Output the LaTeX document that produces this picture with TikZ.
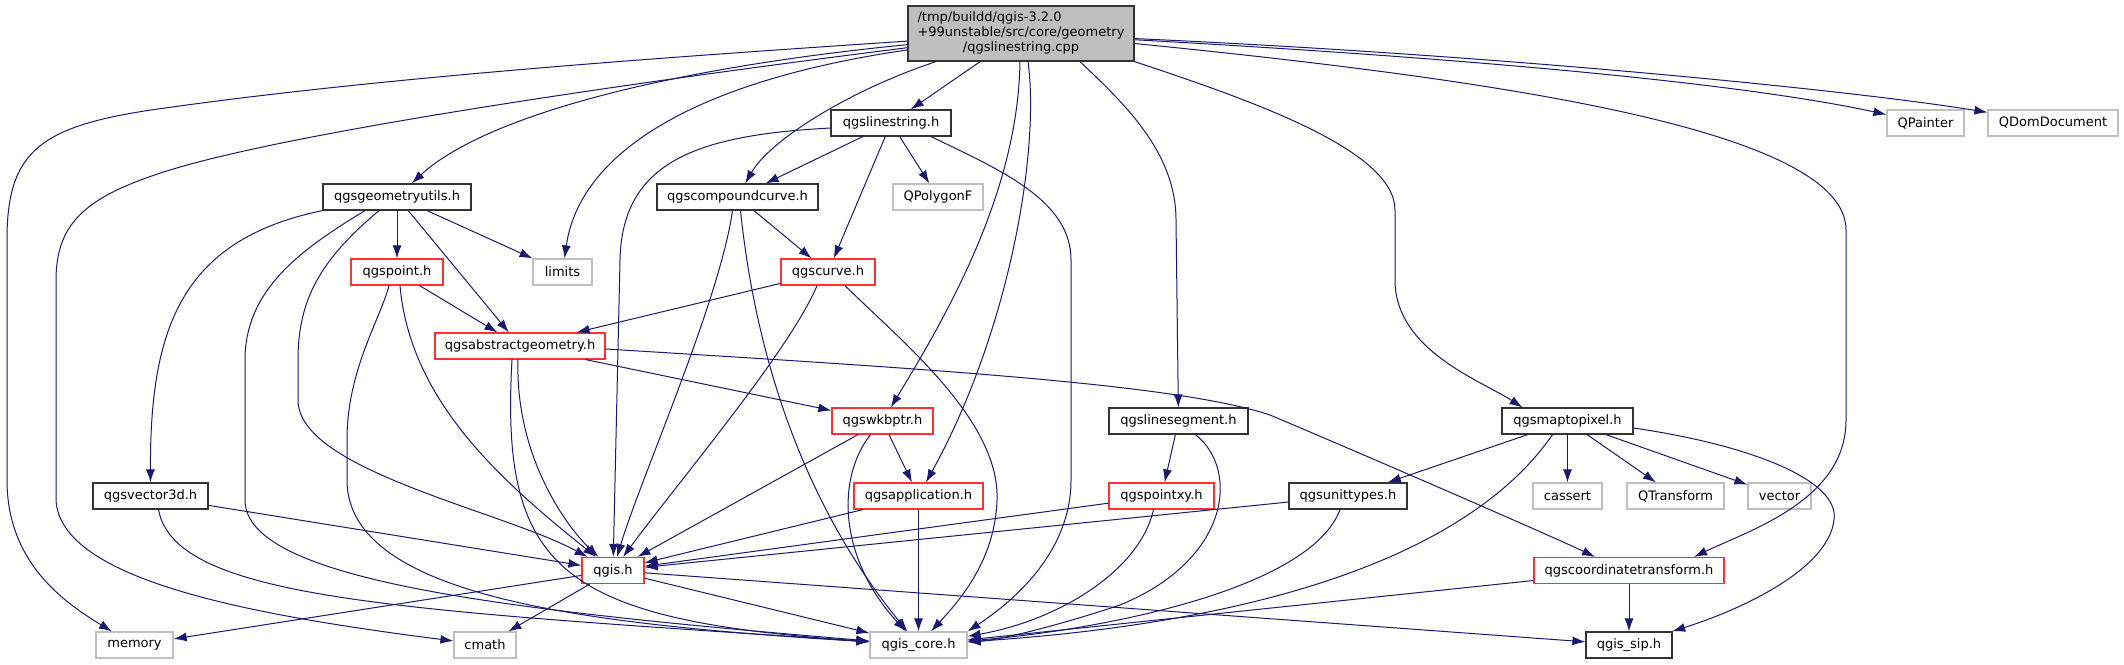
\documentclass[tikz,border=0pt]{standalone}
\usepackage{fontspec}
\setmainfont{DejaVu Sans}
\usetikzlibrary{arrows.meta}
\definecolor{depblue}{HTML}{191970}
\definecolor{extgrey}{HTML}{BFBFBF}
\definecolor{truncred}{HTML}{FF3030}

\begin{document}
\begin{tikzpicture}[x=1pt,y=-1pt,>=Latex,
  incbox/.style={draw,line width=1.2pt,fill=white,minimum height=26pt,inner sep=0pt,font=\fontsize{13}{15}\selectfont},
  hdr/.style={incbox,draw=black!80},
  trunc/.style={incbox,draw=truncred},
  ext/.style={incbox,draw=extgrey},
  srcfile/.style={incbox,draw=black!80,fill=extgrey,minimum height=55pt},
  dep/.style={draw=depblue,line width=1pt,-{Latex[length=13pt,width=9pt]}}]
\useasboundingbox (0,0) rectangle (2124,664);
% row 0 / 1
\node[srcfile,minimum width=226pt] (main) at (1021,33.5) {\begin{tabular}{@{}l@{}}/tmp/buildd/qgis-3.2.0\\+99unstable/src/core/geometry\\\multicolumn{1}{@{}c@{}}{/qgslinestring.cpp}\end{tabular}};
\node[hdr,minimum width=120pt] (lstr) at (891,123) {qgslinestring.h};
\node[ext,minimum width=77pt] (qpainter) at (1925.5,123) {QPainter};
\node[ext,minimum width=130pt] (qdom) at (2053,123) {QDomDocument};
% row 2 / 3
\node[hdr,minimum width=148pt] (geomutils) at (397,197) {qgsgeometryutils.h};
\node[hdr,minimum width=161pt] (compcurve) at (737.5,197) {qgscompoundcurve.h};
\node[ext,minimum width=90pt] (qpolygonf) at (938,197) {QPolygonF};
\node[trunc,minimum width=92pt] (point) at (397,272) {qgspoint.h};
\node[ext,minimum width=59pt] (limits) at (562.5,272) {limits};
\node[trunc,minimum width=94pt] (curve) at (828,272) {qgscurve.h};
% row 4 / 5
\node[trunc,minimum width=170pt] (absgeom) at (520,346) {qgsabstractgeometry.h};
\node[trunc,minimum width=101pt] (wkbptr) at (882.5,421) {qgswkbptr.h};
\node[hdr,minimum width=139pt] (lineseg) at (1178.5,421) {qgslinesegment.h};
\node[hdr,minimum width=131pt] (maptopixel) at (1567.5,421) {qgsmaptopixel.h};
% row 6
\node[hdr,minimum width=115pt] (vector3d) at (150.5,496) {qgsvector3d.h};
\node[trunc,minimum width=129pt] (application) at (918.5,496) {qgsapplication.h};
\node[trunc,minimum width=105pt] (pointxy) at (1161.5,496) {qgspointxy.h};
\node[hdr,minimum width=118pt] (unittypes) at (1348,496) {qgsunittypes.h};
\node[ext,minimum width=69pt] (cassert) at (1567.5,496) {cassert};
\node[ext,minimum width=97pt] (qtransform) at (1675.5,496) {QTransform};
\node[ext,minimum width=63pt] (vector) at (1779.5,496) {vector};
% row 7 / 8
\node[trunc,minimum width=62pt] (qgish) at (613,570.5) {qgis.h};
\node[trunc,minimum width=190pt] (coordtrans) at (1629,570.5) {qgscoordinatetransform.h};
\node[ext,minimum width=77pt] (memory) at (134.5,645) {memory};
\node[ext,minimum width=62pt] (cmath) at (485,645) {cmath};
\node[ext,minimum width=97pt] (qgiscore) at (918.5,645) {qgis\_core.h};
\node[hdr,minimum width=86pt] (qgissip) at (1629,645) {qgis\_sip.h};
% includes of the .cpp
\draw[dep] (main) .. controls (700,55) and (400,75) .. (165,108) .. controls (40,125) and (7,150) .. (7,240) -- (7,480) .. controls (7,560) and (60,600) .. (memory);
\draw[dep] (main) .. controls (650,80) and (300,130) .. (170,170) .. controls (90,195) and (56,220) .. (56,280) -- (56,500) .. controls (60,580) and (250,615) .. (cmath);
\draw[dep] (main) .. controls (650,70) and (480,120) .. (geomutils);
\draw[dep] (main) .. controls (700,80) and (580,150) .. (limits);
\draw[dep] (main) .. controls (850,90) and (770,140) .. (compcurve);
\draw[dep] (main) -- (lstr);
\draw[dep] ([xshift=-1pt]main.south) .. controls (1018,190) and (950,310) .. (wkbptr);
\draw[dep] ([xshift=7pt]main.south) .. controls (1040,150) and (1010,330) .. (application);
\draw[dep] ([xshift=59pt]main.south) .. controls (1120,100) and (1176,150) .. (1176,220) -- (lineseg);
\draw[dep] (main.south east) .. controls (1250,100) and (1395,150) .. (1395,210) -- (1395,280) .. controls (1395,350) and (1480,380) .. ([xshift=-45pt]maptopixel.north);
\draw[dep] ([yshift=-10pt]main.east) .. controls (1500,80) and (1846,130) .. (1846,230) -- (1846,420) .. controls (1846,500) and (1750,530) .. ([xshift=65pt]coordtrans.north);
\draw[dep] (main) .. controls (1500,60) and (1750,85) .. (qpainter);
\draw[dep] (main) .. controls (1500,55) and (1850,90) .. (qdom);
% qgslinestring.h
\draw[dep] (lstr) -- (compcurve);
\draw[dep] (lstr) -- (qpolygonf);
\draw[dep] (lstr) -- (curve);
\draw[dep] ([yshift=-5pt]lstr.west) .. controls (700,135) and (622,160) .. (620,260) -- (qgish);
\draw[dep] ([xshift=40pt]lstr.south) .. controls (1000,170) and (1071,200) .. (1071,260) -- (1071,480) .. controls (1071,560) and (1000,610) .. (qgiscore.north east);
% qgsgeometryutils.h
\draw[dep] (geomutils) -- (limits);
\draw[dep] (geomutils) -- (point);
\draw[dep] (geomutils) -- (absgeom);
\draw[dep] (geomutils.south west) .. controls (180,240) and (150,330) .. (vector3d);
\draw[dep] ([xshift=-32pt]geomutils.south) .. controls (300,250) and (245,290) .. (245,360) -- (245,500) .. controls (245,580) and (500,610) .. (qgiscore);
\draw[dep] ([xshift=-18pt]geomutils.south) .. controls (320,260) and (298,300) .. (298,360) -- (298,400) .. controls (298,470) and (500,510) .. (qgish);
% qgspoint.h
\draw[dep] (point) -- (absgeom);
\draw[dep] ([xshift=3pt]point.south) .. controls (410,400) and (500,480) .. (qgish);
\draw[dep] ([xshift=-8pt]point.south) .. controls (380,320) and (347,370) .. (347,440) -- (347,480) .. controls (347,600) and (600,625) .. (qgiscore);
% qgscompoundcurve.h and qgscurve.h
\draw[dep] (compcurve) -- (curve);
\draw[dep] ([xshift=-5pt]compcurve.south) .. controls (720,300) and (640,480) .. (qgish);
\draw[dep] ([xshift=3pt]compcurve.south) .. controls (755,350) and (800,500) .. (qgiscore);
\draw[dep] (curve) -- (absgeom);
\draw[dep] ([xshift=-11pt]curve.south) .. controls (790,350) and (680,480) .. (qgish);
\draw[dep] ([xshift=17pt]curve.south) .. controls (900,340) and (1000,420) .. (997,500) .. controls (995,560) and (960,600) .. (qgiscore);
% qgsabstractgeometry.h
\draw[dep] (absgeom) -- (wkbptr);
\draw[dep] ([xshift=-2pt]absgeom.south) .. controls (515,460) and (570,530) .. (qgish);
\draw[dep] ([xshift=-8pt]absgeom.south) .. controls (500,570) and (560,620) .. (qgiscore);
\draw[dep] ([yshift=-3pt]absgeom.east) .. controls (950,370) and (1180,385) .. (1270,415) .. controls (1400,470) and (1560,540) .. ([xshift=-34pt]coordtrans.north);
% qgswkbptr.h and qgsapplication.h
\draw[dep] (wkbptr) -- (qgish);
\draw[dep] (wkbptr) -- (application);
\draw[dep] ([xshift=-12pt]wkbptr.south) .. controls (835,480) and (840,560) .. (qgiscore);
\draw[dep] (application) -- (qgish);
\draw[dep] (application) -- (qgiscore);
% qgsvector3d.h
\draw[dep] (vector3d) -- (qgish);
\draw[dep] ([xshift=8pt]vector3d.south) .. controls (175,600) and (400,610) .. (qgiscore);
% qgslinesegment.h, qgspointxy.h, qgsunittypes.h
\draw[dep] (lineseg) -- (pointxy);
\draw[dep] ([xshift=17pt]lineseg.south) .. controls (1240,470) and (1230,560) .. (1120,605) .. controls (1060,625) and (1000,640) .. (qgiscore);
\draw[dep] (pointxy) -- (qgish);
\draw[dep] ([xshift=-8pt]pointxy.south) .. controls (1140,570) and (1060,620) .. (qgiscore);
\draw[dep] (unittypes) -- (qgish);
\draw[dep] ([xshift=-8pt]unittypes.south) .. controls (1310,590) and (1100,630) .. (qgiscore);
% qgsmaptopixel.h
\draw[dep] (maptopixel) -- (unittypes);
\draw[dep] ([xshift=-15pt]maptopixel.south) .. controls (1480,540) and (1300,620) .. (qgiscore);
\draw[dep] (maptopixel) -- (cassert);
\draw[dep] (maptopixel) -- (qtransform);
\draw[dep] (maptopixel) -- (vector);
\draw[dep] ([yshift=-7pt]maptopixel.east) .. controls (1750,445) and (1840,480) .. (1834,520) .. controls (1828,570) and (1740,610) .. (qgissip);
% qgscoordinatetransform.h
\draw[dep] (coordtrans) -- (qgissip);
\draw[dep] (coordtrans) -- (qgiscore);
% qgis.h
\draw[dep] (qgish) -- (memory);
\draw[dep] (qgish) -- (cmath);
\draw[dep] (qgish) -- (qgiscore);
\draw[dep] (qgish) -- (qgissip);
\end{tikzpicture}
\end{document}
